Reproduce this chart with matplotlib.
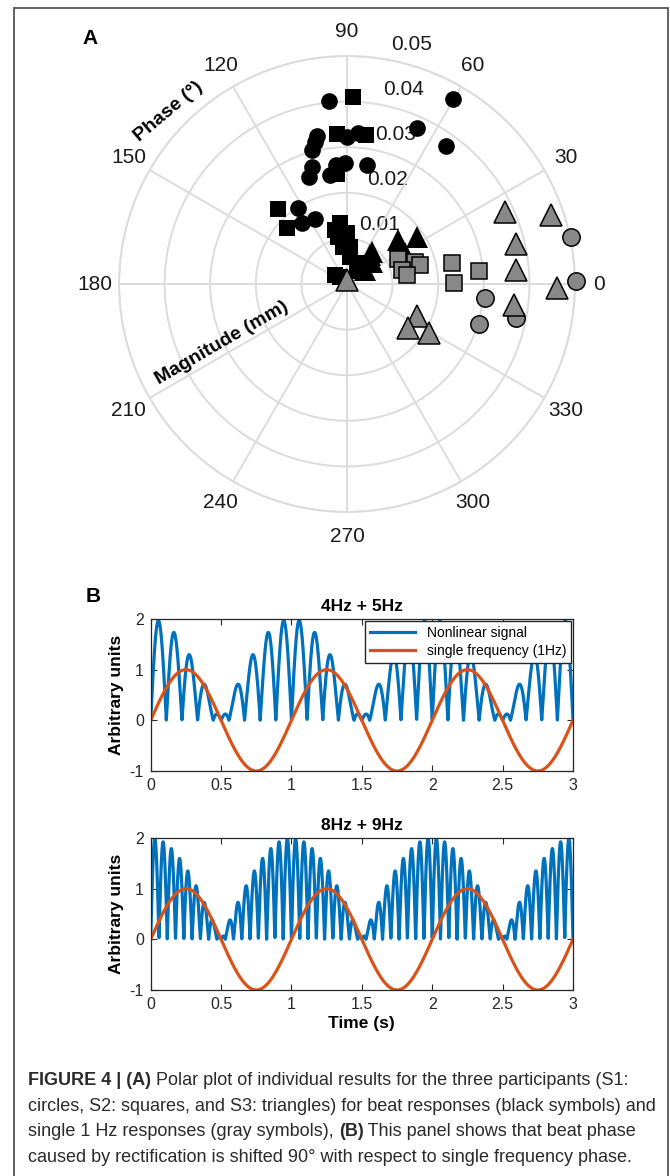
import numpy as np
import matplotlib.pyplot as plt
from matplotlib.patches import Rectangle
from matplotlib.ticker import FormatStrFormatter

plt.rcParams['font.family'] = ['Liberation Sans', 'DejaVu Sans']
plt.rcParams['axes.unicode_minus'] = False

# Panel A: polar data (phase in degrees, magnitude in mm)
beat_circ_th = [95.5, 60.3, 65.7, 54.3, 89.9, 85.7, 101.3, 102.7, 104.8, 106.8,
                109.5, 95.3, 90.9, 98.9, 80.3, 122.8, 126.7, 116.3]
beat_circ_r = [0.0404, 0.0467, 0.0375, 0.0372, 0.0323, 0.0333, 0.0331, 0.0320, 0.0304, 0.0267,
               0.0248, 0.0262, 0.0266, 0.0242, 0.0265, 0.0197, 0.0166, 0.0158]
beat_sq_th = [88.3, 93.7, 82.7, 95.0, 132.6, 137.3, 96.6, 100.4, 95.7, 83.7, 64.9,
              133.8, 46.7, 102.5, 90.3, 85.4, 143.0]
beat_sq_r = [0.0411, 0.0330, 0.0329, 0.0242, 0.0222, 0.0180, 0.0134, 0.0105, 0.0082, 0.0060, 0.0050,
             0.0022, 0.0052, 0.0121, 0.0111, 0.0082, 0.0033]
beat_tri_th = [52.6, 42.1, 37.9, 40.6, 34.2, 27.9, 51.6, 60.0]
beat_tri_r = [0.0089, 0.0073, 0.0050, 0.0148, 0.0185, 0.0144, 0.0081, 0.0040]

single_circ_th = [11.9, 0.8, -5.9, -17.0, -11.5]
single_circ_r = [0.0502, 0.0502, 0.0304, 0.0303, 0.0378]
single_sq_th = [25.7, 18.2, 14.6, 14.4, 8.6, 11.4, 5.8, 0.7]
single_sq_r = [0.0125, 0.0157, 0.0165, 0.0124, 0.0132, 0.0236, 0.0291, 0.0235]
single_tri_th = [24.6, 18.7, 13.3, 4.7, -1.2, -7.2, -24.5, -35.9, -30.9, 86.0]
single_tri_r = [0.0381, 0.0472, 0.0380, 0.0371, 0.0461, 0.0369, 0.0169, 0.0166, 0.0210, 0.0009]

r_ticks = [0.01, 0.02, 0.03, 0.04, 0.05]
theta_ticks = list(range(0, 360, 30))

# Panel B: frequencies of the two beat signals and of the single reference tone
beat_pairs = [(4, 5), (8, 9)]
beat_titles = ['4Hz + 5Hz', '8Hz + 9Hz']
single_freq = 1
x_ticks = [0, 0.5, 1, 1.5, 2, 2.5, 3]
y_ticks = [-1, 0, 1, 2]

W, H = 670, 1176
fig = plt.figure(figsize=(W / 100, H / 100), dpi=100)

# frame around the figure
fig.add_artist(Rectangle((14 / W, -0.01), (668 - 14) / W, 1 - 8 / H + 0.01,
                         transform=fig.transFigure, fill=False, ec='#555555', lw=1.3))

# ---------- Panel A ----------
cx, cy, R = 347, 284, 228
axp = fig.add_axes([(cx - R) / W, 1 - (cy + R) / H, 2 * R / W, 2 * R / H], projection='polar')
axp.set_ylim(0, 0.05)
axp.set_yticks(r_ticks)
axp.set_yticklabels([])
axp.set_thetagrids(theta_ticks, [str(t) for t in theta_ticks])
axp.tick_params(axis='x', pad=7, labelsize=15, colors='#1a1a1a')
axp.grid(color='#dcdcdc', lw=1.4)
axp.spines['polar'].set_color('#dcdcdc')
axp.spines['polar'].set_linewidth(1.4)

for r in r_ticks:
    axp.annotate(f'{r:.2f}', xy=(np.deg2rad(80), r), xytext=(25, 15),
                 textcoords='offset pixels', ha='center', va='center',
                 fontsize=15, color='#1a1a1a', zorder=1)

def pol(th, r, marker, ms, fc, ec='black', mew=0.0):
    axp.plot(np.deg2rad(th), r, marker, ms=ms, mfc=fc, mec=ec, mew=mew,
             ls='none', clip_on=False, zorder=3)

pol(beat_circ_th, beat_circ_r, 'o', 12, 'black')
pol(beat_sq_th, beat_sq_r, 's', 11.5, 'black')
pol(beat_tri_th, beat_tri_r, '^', 15.5, 'black')
pol(single_circ_th, single_circ_r, 'o', 12.5, '#888888', mew=1.1)
pol(single_sq_th, single_sq_r, 's', 11, '#888888', mew=1.1)
pol(single_tri_th, single_tri_r, '^', 16, '#888888', mew=1.1)

fig.text(169 / W, 1 - 112 / H, 'Phase (°)', rotation=40, ha='center', va='center',
         fontsize=14, fontweight='bold')
fig.text(222 / W, 1 - 343 / H, 'Magnitude (mm)', rotation=30, ha='center', va='center',
         fontsize=14, fontweight='bold')
fig.text(90 / W, 1 - 38 / H, 'A', ha='center', va='center', fontsize=15, fontweight='bold')

# ---------- Panel B ----------
t = np.linspace(0, 3, 4001)
left, right = 150.7, 573
tops = [619, 838]
height = 152
for i, (f1, f2) in enumerate(beat_pairs):
    top = tops[i]
    ax = fig.add_axes([left / W, 1 - (top + height) / H, (right - left) / W, height / H])
    nonlin = np.abs(np.sin(2 * np.pi * f1 * t) + np.sin(2 * np.pi * f2 * t))
    single = np.sin(2 * np.pi * single_freq * t)
    ax.plot(t, nonlin, color='#0072BD', lw=2.3, label='Nonlinear signal')
    ax.plot(t, single, color='#D95319', lw=2.3, label='single frequency (1Hz)')
    ax.set_xlim(0, 3)
    ax.set_ylim(-1, 2)
    ax.set_xticks(x_ticks)
    ax.set_yticks(y_ticks)
    ax.xaxis.set_major_formatter(FormatStrFormatter('%g'))
    ax.tick_params(direction='in', top=True, right=True, length=4, width=0.8,
                   labelsize=11.5, colors='#262626', pad=5)
    for s in ax.spines.values():
        s.set_color('#262626')
        s.set_linewidth(0.9)
    ax.set_title(beat_titles[i], fontsize=12.5, fontweight='bold', pad=6)
    ax.set_ylabel('Arbitrary units', fontsize=12.5, fontweight='bold', labelpad=4)
    if i == 0:
        ax.legend(loc='upper right', fontsize=10, fancybox=False, edgecolor='#262626',
                  framealpha=1, handlelength=3.3, borderaxespad=0.15, borderpad=0.35,
                  labelspacing=0.3)
    else:
        ax.set_xlabel('Time (s)', fontsize=12.5, fontweight='bold', labelpad=3)

fig.text(93 / W, 1 - 597 / H, 'B', ha='center', va='center', fontsize=15, fontweight='bold')

# ---------- caption ----------
cap_lines = [
    [('FIGURE 4 | (A)', 'bold'), (' Polar plot of individual results for the three participants (S1:', 'normal')],
    [('circles, S2: squares, and S3: triangles) for beat responses (black symbols) and', 'normal')],
    [('single 1 Hz responses (gray symbols), ', 'normal'), ('(B)', 'bold'),
     (' This panel shows that beat phase', 'normal')],
    [('caused by rectification is shifted 90° with respect to single frequency phase.', 'normal')],
]
renderer = fig.canvas.get_renderer()
for k, parts in enumerate(cap_lines):
    x = 28 / W
    y = 1 - (1085 + 25.6 * k) / H
    for s, w in parts:
        txt = fig.text(x, y, s, fontsize=13, fontweight=w, ha='left', va='baseline',
                       color='#2a2a2a')
        x += txt.get_window_extent(renderer=renderer).width / fig.bbox.width

fig.savefig('out.png', dpi=100)
